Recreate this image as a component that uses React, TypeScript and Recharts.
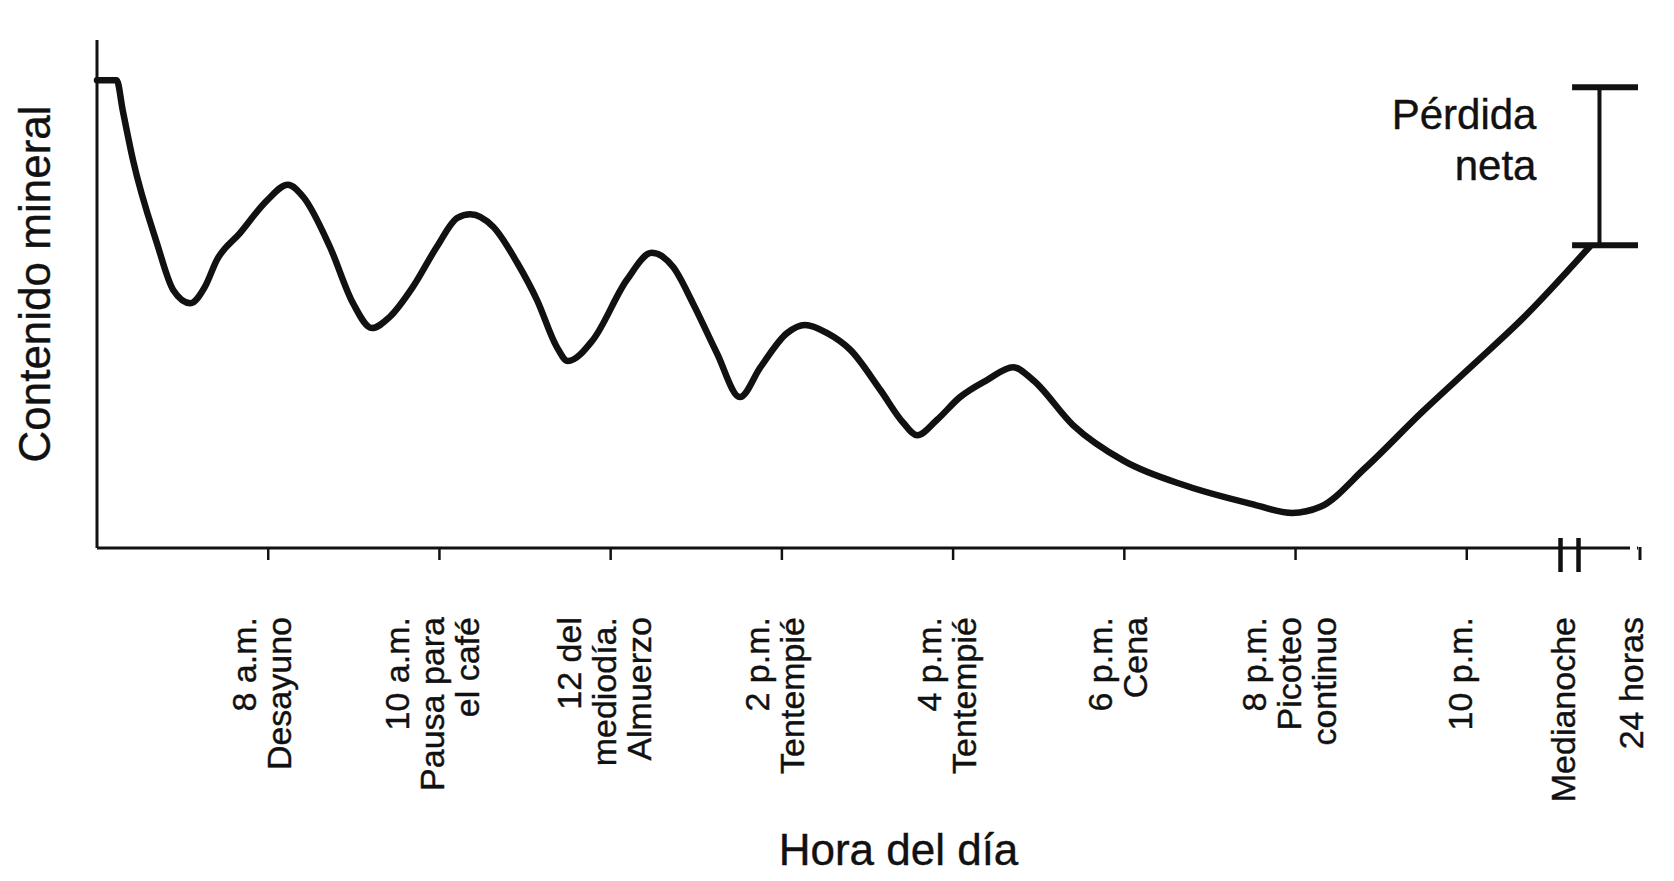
import React from 'react';
import { LineChart, Line, XAxis, YAxis, ReferenceLine, Label } from 'recharts';

// hours of the day (6 = 6 a.m.)
const horas = [
  6.0, 6.23, 6.3, 6.42, 6.7, 6.89, 7.09, 7.26, 7.4, 7.67, 7.99, 8.23, 8.41, 8.72, 8.99,
  9.21, 9.42, 9.69, 9.97, 10.21, 10.36, 10.63, 10.91, 11.14, 11.37, 11.5, 11.79, 12.19,
  12.48, 12.73, 12.96, 13.24, 13.51, 13.75, 14.06, 14.27, 14.53, 14.8, 15.15, 15.42,
  15.58, 15.81, 16.08, 16.4, 16.7, 16.93, 17.4, 18.0, 18.73, 19.48, 19.96, 20.29, 20.81,
  21.48, 22.07, 22.66, 23.44,
];

// mineral content, arbitrary units (0 = x axis, 100 = top of y axis)
const contenido = [
  92.1, 92.1, 86.2, 76.4, 60.0, 50.8, 48.2, 51.4, 56.7, 62.0, 68.5, 71.5, 69.1, 59.3, 48.2,
  43.3, 45.5, 51.4, 59.3, 65.0, 65.7, 63.2, 56.1, 48.8, 39.6, 36.8, 40.9, 52.8,
  58.1, 55.3, 48.2, 38.4, 29.7, 35.6, 42.3, 43.9, 42.3, 39.0, 31.1, 24.6,
  22.2, 25.2, 29.7, 33.1, 35.6, 33.1, 24.2, 17.1, 12.2, 8.7, 6.9, 8.1, 15.7,
  26.8, 36.0, 45.3, 59.4,
];

const tickHoras = [8, 10, 12, 14, 16, 18, 20, 22, 23.2, 24];
const tickEtiquetas = [
  ['8 a.m.', 'Desayuno'],
  ['10 a.m.', 'Pausa para', 'el café'],
  ['12 del', 'mediodía.', 'Almuerzo'],
  ['2 p.m.', 'Tentempié'],
  ['4 p.m.', 'Tentempié'],
  ['6 p.m.', 'Cena'],
  ['8 p.m.', 'Picoteo', 'continuo'],
  ['10 p.m.'],
  ['Medianoche'],
  ['24 horas'],
];

// net loss bracket
const perdidaHora = 23.55;
const perdidaDesde = 23.23;
const perdidaHasta = 24;
const perdidaArriba = 90.7;
const perdidaAbajo = 59.6;

const data = horas.map((hora, i) => ({ hora, contenido: contenido[i] }));

const FONT = "'Liberation Sans', Arial, Helvetica, sans-serif";
const INK = '#111';

const HoraTick = (props: any) => {
  const { x, y, payload } = props;
  const i = tickHoras.indexOf(payload.value);
  const lineas = tickEtiquetas[i] || [];
  const gap = 35;
  const centro = x - 7;
  const top = y + 69;
  let marca;
  if (payload.value === 23.2) {
    // axis break
    marca = (
      <g stroke={INK} strokeWidth={4.5}>
        <line x1={x - 9} y1={y - 10} x2={x - 9} y2={y + 24} />
        <line x1={x + 9} y1={y - 10} x2={x + 9} y2={y + 24} />
      </g>
    );
  } else if (payload.value === 24) {
    marca = (
      <g>
        <line x1={x - 8} y1={y} x2={x - 1} y2={y} stroke="#fff" strokeWidth={5} />
        <line x1={x + 2} y1={y - 1} x2={x + 2} y2={y + 12} stroke={INK} strokeWidth={3} />
      </g>
    );
  } else {
    marca = <line x1={x} y1={y} x2={x} y2={y + 12} stroke={INK} strokeWidth={2.5} />;
  }
  return (
    <g>
      {marca}
      {lineas.map((t, k) => {
        const cx = centro + (k - (lineas.length - 1) / 2) * gap;
        return (
          <text
            key={k}
            x={cx}
            y={top}
            transform={`rotate(-90 ${cx} ${top})`}
            textAnchor="end"
            dominantBaseline="central"
            fontFamily={FONT}
            fontSize={34}
            fill={INK}
            stroke={INK}
            strokeWidth={0.4}
          >
            {t}
          </text>
        );
      })}
    </g>
  );
};

const App = () => {
  return (
    <div style={{ position: 'absolute', left: 0, top: 0, width: 1674, height: 881, background: '#fff' }}>
      <LineChart
        width={1674}
        height={881}
        data={data}
        margin={{ top: 40, right: 36, bottom: 0, left: 0 }}
      >
        <XAxis
          dataKey="hora"
          type="number"
          domain={[6, 24]}
          ticks={tickHoras}
          interval={0}
          height={333}
          tickLine={false}
          tickSize={0}
          tickMargin={0}
          axisLine={{ stroke: INK, strokeWidth: 3 }}
          tick={<HoraTick />}
        >
          <Label
            content={(p: any) => {
              const vb = p.viewBox;
              return (
                <text
                  x={vb.x + vb.width / 2 + 31}
                  y={vb.y + 317}
                  textAnchor="middle"
                  fontFamily={FONT}
                  fontSize={44}
                  fill={INK}
                  stroke={INK}
                  strokeWidth={0.4}
                >
                  Hora del día
                </text>
              );
            }}
          />
        </XAxis>
        <YAxis
          type="number"
          domain={[0, 100]}
          width={97}
          tick={false}
          tickLine={false}
          axisLine={{ stroke: INK, strokeWidth: 3 }}
        >
          <Label
            content={(p: any) => {
              const vb = p.viewBox;
              const cx = vb.x + 34;
              const cy = vb.y + vb.height / 2 - 10;
              return (
                <text
                  x={cx}
                  y={cy}
                  transform={`rotate(-90 ${cx} ${cy})`}
                  textAnchor="middle"
                  dominantBaseline="central"
                  fontFamily={FONT}
                  fontSize={44}
                  fill={INK}
                  stroke={INK}
                  strokeWidth={0.4}
                >
                  Contenido mineral
                </text>
              );
            }}
          />
        </YAxis>
        <Line
          type="monotone"
          dataKey="contenido"
          stroke={INK}
          strokeWidth={6.5}
          strokeLinecap="round"
          strokeLinejoin="round"
          dot={false}
          activeDot={false}
          isAnimationActive={false}
        />
        <ReferenceLine
          segment={[
            { x: perdidaDesde, y: perdidaArriba },
            { x: perdidaHasta, y: perdidaArriba },
          ]}
          stroke={INK}
          strokeWidth={6}
        />
        <ReferenceLine
          segment={[
            { x: perdidaDesde, y: perdidaAbajo },
            { x: perdidaHasta, y: perdidaAbajo },
          ]}
          stroke={INK}
          strokeWidth={6}
        />
        <ReferenceLine
          segment={[
            { x: perdidaHora, y: perdidaArriba },
            { x: perdidaHora, y: perdidaAbajo },
          ]}
          stroke={INK}
          strokeWidth={4}
        >
          <Label
            content={(p: any) => {
              const vb = p.viewBox || {};
              const lx = (vb.x ?? vb.x1 ?? 1599) - 63;
              const ly = Math.min(vb.y ?? vb.y1 ?? 88, vb.y2 ?? 9999);
              return (
                <text
                  textAnchor="end"
                  fontFamily={FONT}
                  fontSize={42}
                  fill={INK}
                  stroke={INK}
                  strokeWidth={0.4}
                >
                  <tspan x={lx} y={ly + 42}>Pérdida</tspan>
                  <tspan x={lx} y={ly + 93}>neta</tspan>
                </text>
              );
            }}
          />
        </ReferenceLine>
      </LineChart>
    </div>
  );
};

export default App;
